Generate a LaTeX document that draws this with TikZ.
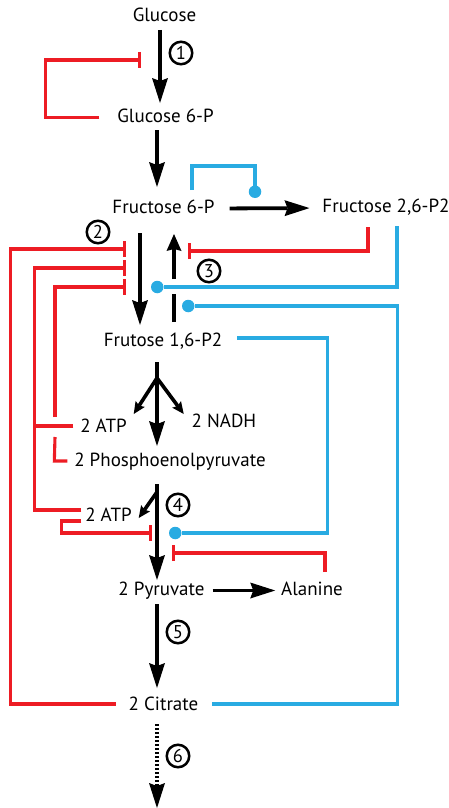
\documentclass[tikz,border=0pt]{standalone}
\usepackage{fontspec}
\setmainfont{PT Sans}
\usetikzlibrary{arrows.meta}

\definecolor{inhred}{RGB}{237,28,36}
\definecolor{actblue}{RGB}{41,171,226}

\tikzset{
  met/.style={anchor=base, inner sep=0pt, outer sep=0pt, text height=13pt,
    text depth=4pt, font=\fontsize{19}{22}\selectfont},
  num/.style={circle, draw, line width=2.5pt, minimum size=22.5pt,
    inner sep=0pt, font=\fontsize{18.5}{18.5}\selectfont},
  flow/.style={line width=3.8pt,
    -{Stealth[length=25pt,width=16pt,inset=3pt,line width=0pt]}},
  upflow/.style={line width=3.8pt,
    -{Stealth[length=17pt,width=15pt,inset=2pt,line width=0pt]}},
  side/.style={line width=3.6pt,
    -{Stealth[length=12pt,width=11pt,inset=2pt,line width=0pt]}},
  redline/.style={inhred, line width=3.1pt},
  inhib/.style={redline, -{Bar[width=16pt]}},
  activ/.style={actblue, line width=3.1pt, -{Circle[length=12.5pt,line width=0pt]}}
}

\begin{document}
\begin{tikzpicture}[x=1pt,y=-1pt]
\useasboundingbox (0,0) rectangle (448,808);

% Columns of the pathway
\coordinate (top) at (160,0);
\coordinate (main) at (157,0);
\coordinate (fwd) at (140,0);
\coordinate (back) at (174,0);

% Metabolites
\node[met] (glc) at (164.5,22) {Glucose};
\node[met] (g6p) at (165.5,122) {Glucose 6-P};
\node[met] (f6p) at (163.5,213) {Fructose 6-P};
\node[met] (f26) at (386,212.5) {Fructose 2,6-P2};
\node[met] (f16) at (163,346) {Frutose 1,6-P2};
\node[met] (atp1) at (103.5,432.5) {2 ATP};
\node[met] (nadh) at (224,427) {2 NADH};
\node[met] (pep) at (170,466.5) {2 Phosphoenolpyruvate};
\node[met] (atp2) at (108.5,521) {2 ATP};
\node[met] (pyr) at (161.5,595) {2 Pyruvate};
\node[met] (ala) at (312,595) {Alanine};
\node[met] (cit) at (163.5,710) {2 Citrate};

% Step numbers
\foreach \n/\x/\y in {1/181/53, 2/98/232, 3/209/271, 4/178/505, 5/178/632, 6/178/756}
  \node[num] (s\n) at (\x,\y) {\n};

% Ends of the regulation lines
\coordinate (i1) at (141,60);
\coordinate (i2) at (126,249);
\coordinate (i3) at (126,268);
\coordinate (i4) at (126,287);
\coordinate (i5) at (152,533);
\coordinate (i6) at (188,251);
\coordinate (i7) at (172,553);
\coordinate (a1) at (255,198);
\coordinate (a2) at (151,287);
\coordinate (a3) at (182,306);
\coordinate (a4) at (169,533);

% Gaps where lines cross
\coordinate (gapA) at (55,437);
\coordinate (gapB) at (55,417);
\coordinate (gap3a) at (174,294);
\coordinate (gap3b) at (174,279);

% Main pathway
\draw[flow, shorten <=4pt, shorten >=6pt] (glc.south -| top) -- (g6p.north -| top);
\draw[flow, shorten <=4pt, shorten >=13pt] (g6p.south -| main) -- (f6p.north -| main);
\draw[flow, shorten <=15pt, shorten >=13pt] (f6p.east) -- (f26.west);
\draw[flow, shorten <=16pt, shorten >=8pt] (f6p.south -| fwd) -- (f16.north -| fwd);
\draw[line width=3.8pt, shorten <=11pt] (f16.north -| back) -- (gap3a);
\draw[upflow, shorten >=17pt] (gap3b) -- (f6p.south -| back);
\draw[flow, shorten <=12pt, shorten >=7.5pt] (f16.south -| main) -- (pep.north -| main);
\coordinate (br1) at (157,378);
\draw[side] (br1) -- ([xshift=7pt,yshift=5.5pt]atp1.north east);
\draw[side] (br1) -- ([xshift=-8pt]nadh.north west);
\draw[flow, shorten <=13.5pt, shorten >=2pt] (pep.south -| main) -- (pyr.north -| main);
\coordinate (br2) at (157,492);
\draw[side] (br2) -- ([xshift=7pt,yshift=-10pt]atp2.north east);
\draw[flow, shorten <=8pt, shorten >=6pt] (pyr.east) -- (ala.west);
\draw[flow, shorten <=5pt, shorten >=9pt] (pyr.south -| main) -- (cit.north -| main);
\coordinate (out) at (157,808);
\draw[flow, dash pattern=on 2pt off 2pt, shorten <=10pt] (cit.south -| main) -- (out);

% Inhibition
\draw[inhib] ([xshift=-18pt]g6p.west) -- ++(-54,0) |- (i1);
\draw[inhib] ([xshift=-13pt,yshift=1.5pt]cit.west) -- ++(-105,0) |- (i2);
\draw[inhib] ([xshift=-4pt,yshift=6.5pt]atp2.west) -- ++(-47,0) |- (i3);
\draw[redline] ([xshift=-7pt,yshift=2pt]atp1.west) -- ++(-39,0);
\draw[redline] ([xshift=-7pt,yshift=1pt]pep.west) -- ++(-13,0) -- (gapA);
\draw[inhib] (gapB) |- (i4);
\draw[inhib] ([xshift=-4pt,yshift=-4.5pt]atp2.west) -- ++(-20,0) |- (i5);
\draw[inhib] ([xshift=-18pt,yshift=-10.5pt]f26.south) |- (i6);
\draw[inhib] ([xshift=13pt,yshift=10pt]ala.north) |- (i7);

% Activation
\draw[activ] ([xshift=28.5pt,yshift=10pt]f6p.north) -- ++(0,-24) -| (a1);
\draw[activ] ([xshift=11pt,yshift=-9.5pt]f26.south) |- (a2);
\draw[activ] ([xshift=14pt,yshift=1.5pt]cit.east) -- ++(185,0) |- (a3);
\draw[activ] ([xshift=15pt,yshift=3.5pt]f16.east) -- ++(90,0) |- (a4);

\end{tikzpicture}
\end{document}
